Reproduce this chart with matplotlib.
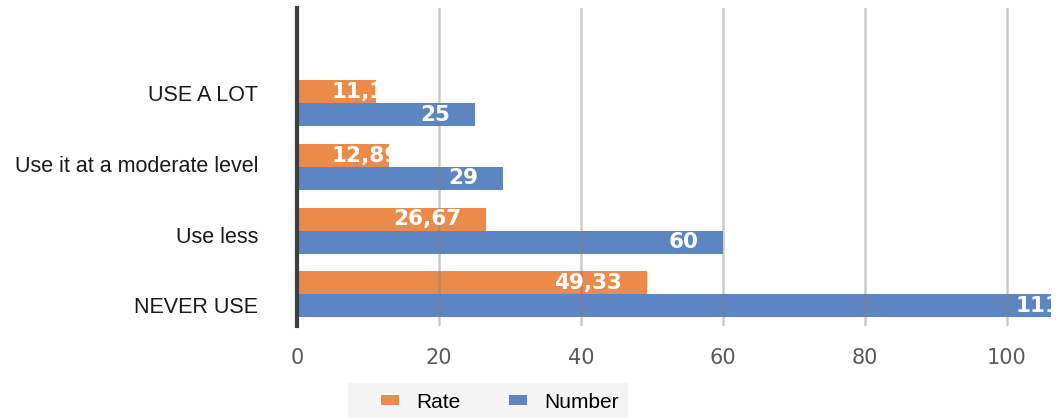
import matplotlib.pyplot as plt
import numpy as np
from matplotlib.patches import Rectangle
from matplotlib.transforms import Bbox, TransformedBbox

# survey answers, listed top to bottom
categories = ["USE A LOT", "Use it at a moderate level", "Use less", "NEVER USE"]
number = [25, 29, 60, 111]
rate = [11.11, 12.89, 26.67, 49.33]
rate_labels = ["11,11", "12,89", "26,67", "49,33"]
number_labels = ["25", "29", "60", "111"]
xticks = [0, 20, 40, 60, 80, 100]

orange = "#eb8a49"
blue = "#5d85c2"

fig = plt.figure(figsize=(10.57, 4.18), dpi=100)
ax = fig.add_axes([0.281, 0.22, 0.7133, 0.761])

y = np.arange(len(categories))[::-1].astype(float)
h = 0.36
xmax = 106.2

b_rate = ax.barh(y + h / 2, rate, height=h, color=orange, label="Rate", zorder=2)
b_num = ax.barh(y - h / 2, number, height=h, color=blue, label="Number", zorder=2)

ax.set_xlim(0, xmax)
ax.set_ylim(-0.5, 4.5)

# value labels: white, inside the bar end, cut off where the bar stops
def put_labels(bars, values, labels):
    for bar, v, s in zip(bars, values, labels):
        yc = bar.get_y() + bar.get_height() / 2
        if v < 15:
            t = ax.text(4.8, yc, s, ha="left", va="center")
        else:
            t = ax.text(v - 3.5, yc, s, ha="right", va="center")
        t.set_color("white")
        t.set_fontweight("bold")
        t.set_fontsize(15.5)
        t.set_family("DejaVu Sans")
        t.set_zorder(4)
        box = Bbox.from_extents(0, bar.get_y(), min(v, xmax), bar.get_y() + bar.get_height())
        t.set_clip_box(TransformedBbox(box, ax.transData))
        t.set_clip_on(True)

put_labels(b_rate, rate, rate_labels)
put_labels(b_num, number, number_labels)

# axes styling
for side in ["top", "right", "bottom"]:
    ax.spines[side].set_visible(False)
ax.spines["left"].set_color("#3b3f43")
ax.spines["left"].set_linewidth(3)
ax.spines["left"].set_zorder(5)

ax.set_xticks(xticks)
ax.tick_params(axis="x", length=0, pad=16, labelsize=15, labelcolor="#5a5a5a")
for lab in ax.get_xticklabels():
    lab.set_family("DejaVu Sans")
ax.xaxis.grid(True, color="#7f7f7f", alpha=0.4, linewidth=1.8, zorder=3)
ax.set_axisbelow(False)

ax.set_yticks(1.113 * y - 0.177)
ax.set_yticklabels(categories, fontsize=15.5, family="Liberation Sans", color="#1a1a1a")
ax.tick_params(axis="y", length=0, pad=28)

# light grey strip behind the legend
fig.patches.append(Rectangle((348 / 1057, 0), 280 / 1057, 35 / 418,
                             transform=fig.transFigure, facecolor="#f5f5f5",
                             edgecolor="none", zorder=0))

leg = fig.legend(handles=[b_rate, b_num], loc="center", bbox_to_anchor=(0.473, 0.038),
                 ncol=2, frameon=False,
                 prop={"family": "Liberation Sans", "size": 15},
                 handlelength=0.85, handleheight=0.4, handletextpad=0.85,
                 columnspacing=2.3, borderpad=0.2)

fig.savefig("out.png", dpi=100)
